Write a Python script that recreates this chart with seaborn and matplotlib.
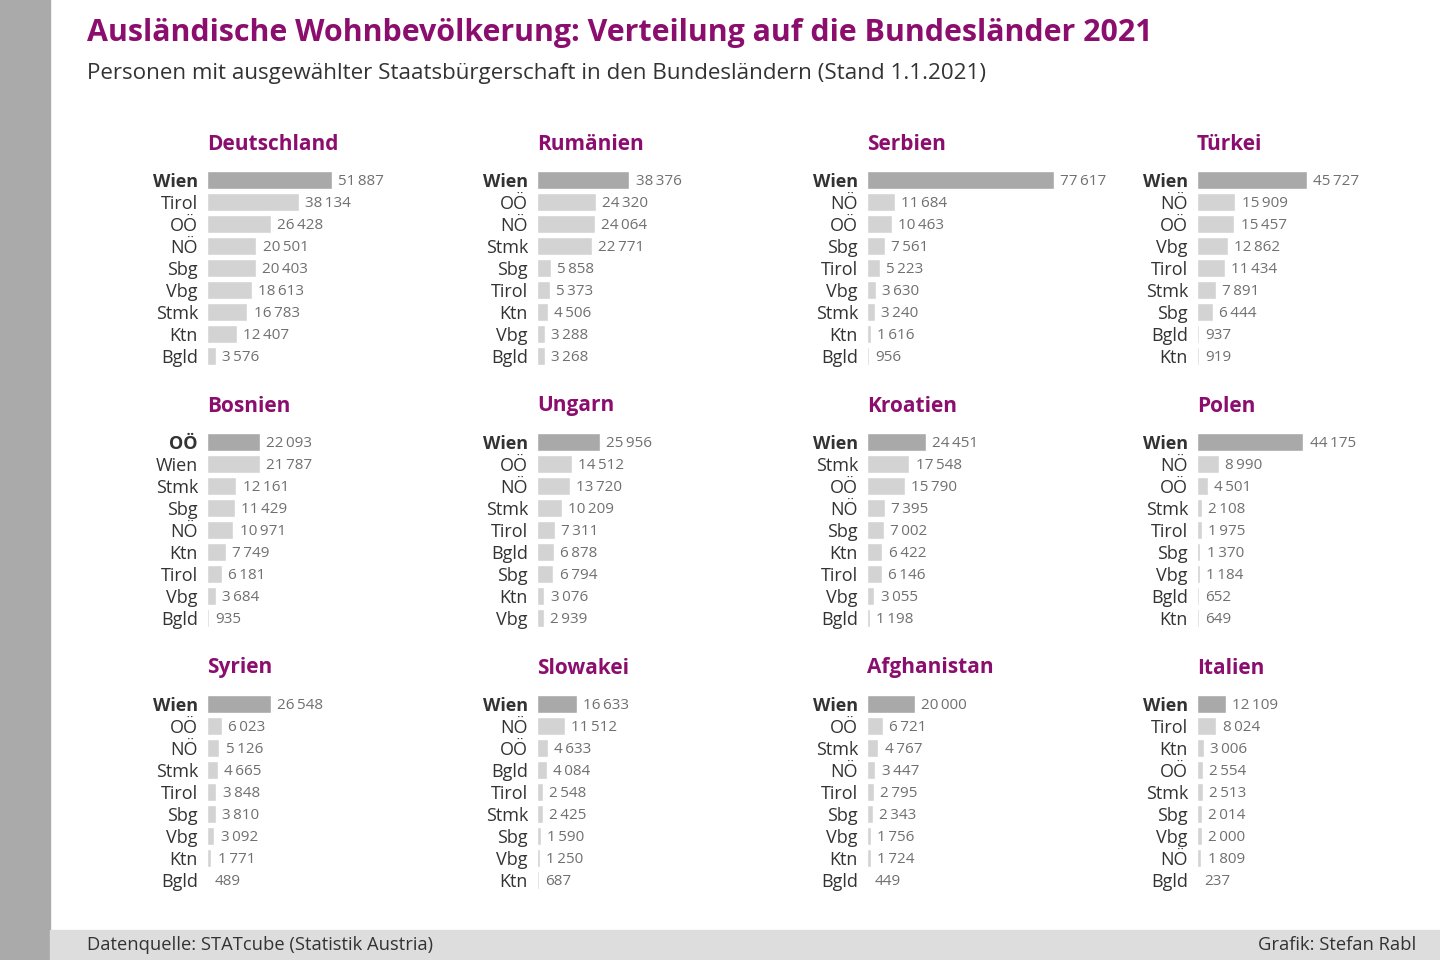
import matplotlib
matplotlib.use("Agg")
import matplotlib.pyplot as plt
import pandas as pd
import seaborn as sns

# %% data
countries = ["Deutschland", "Rumänien", "Serbien", "Türkei",
             "Bosnien", "Ungarn", "Kroatien", "Polen",
             "Syrien", "Slowakei", "Afghanistan", "Italien"]

deutschland_lbl = ["Wien", "Tirol", "OÖ", "NÖ", "Sbg", "Vbg", "Stmk", "Ktn", "Bgld"]
deutschland_val = [51887, 38134, 26428, 20501, 20403, 18613, 16783, 12407, 3576]
rumaenien_lbl = ["Wien", "OÖ", "NÖ", "Stmk", "Sbg", "Tirol", "Ktn", "Vbg", "Bgld"]
rumaenien_val = [38376, 24320, 24064, 22771, 5858, 5373, 4506, 3288, 3268]
serbien_lbl = ["Wien", "NÖ", "OÖ", "Sbg", "Tirol", "Vbg", "Stmk", "Ktn", "Bgld"]
serbien_val = [77617, 11684, 10463, 7561, 5223, 3630, 3240, 1616, 956]
tuerkei_lbl = ["Wien", "NÖ", "OÖ", "Vbg", "Tirol", "Stmk", "Sbg", "Bgld", "Ktn"]
tuerkei_val = [45727, 15909, 15457, 12862, 11434, 7891, 6444, 937, 919]
bosnien_lbl = ["OÖ", "Wien", "Stmk", "Sbg", "NÖ", "Ktn", "Tirol", "Vbg", "Bgld"]
bosnien_val = [22093, 21787, 12161, 11429, 10971, 7749, 6181, 3684, 935]
ungarn_lbl = ["Wien", "OÖ", "NÖ", "Stmk", "Tirol", "Bgld", "Sbg", "Ktn", "Vbg"]
ungarn_val = [25956, 14512, 13720, 10209, 7311, 6878, 6794, 3076, 2939]
kroatien_lbl = ["Wien", "Stmk", "OÖ", "NÖ", "Sbg", "Ktn", "Tirol", "Vbg", "Bgld"]
kroatien_val = [24451, 17548, 15790, 7395, 7002, 6422, 6146, 3055, 1198]
polen_lbl = ["Wien", "NÖ", "OÖ", "Stmk", "Tirol", "Sbg", "Vbg", "Bgld", "Ktn"]
polen_val = [44175, 8990, 4501, 2108, 1975, 1370, 1184, 652, 649]
syrien_lbl = ["Wien", "OÖ", "NÖ", "Stmk", "Tirol", "Sbg", "Vbg", "Ktn", "Bgld"]
syrien_val = [26548, 6023, 5126, 4665, 3848, 3810, 3092, 1771, 489]
slowakei_lbl = ["Wien", "NÖ", "OÖ", "Bgld", "Tirol", "Stmk", "Sbg", "Vbg", "Ktn"]
slowakei_val = [16633, 11512, 4633, 4084, 2548, 2425, 1590, 1250, 687]
afghanistan_lbl = ["Wien", "OÖ", "Stmk", "NÖ", "Tirol", "Sbg", "Vbg", "Ktn", "Bgld"]
afghanistan_val = [20000, 6721, 4767, 3447, 2795, 2343, 1756, 1724, 449]
italien_lbl = ["Wien", "Tirol", "Ktn", "OÖ", "Stmk", "Sbg", "Vbg", "NÖ", "Bgld"]
italien_val = [12109, 8024, 3006, 2554, 2513, 2014, 2000, 1809, 237]

panels = [
    (deutschland_lbl, deutschland_val), (rumaenien_lbl, rumaenien_val),
    (serbien_lbl, serbien_val), (tuerkei_lbl, tuerkei_val),
    (bosnien_lbl, bosnien_val), (ungarn_lbl, ungarn_val),
    (kroatien_lbl, kroatien_val), (polen_lbl, polen_val),
    (syrien_lbl, syrien_val), (slowakei_lbl, slowakei_val),
    (afghanistan_lbl, afghanistan_val), (italien_lbl, italien_val),
]

# %% style
sns.set_style("white")
plt.rcParams["font.family"] = ["Open Sans", "DejaVu Sans"]

PURPLE = "#8b0d6d"
DARK_BAR = "#a9a9a9"
LIGHT_BAR = "#d3d3d3"
TEXT = "#333333"
VALUE = "#707070"

W, H = 1440, 960
fig = plt.figure(figsize=(W / 100, H / 100), dpi=100)
fig.patch.set_facecolor("white")

# decoration: grey side strip and footer band
fig.add_artist(plt.Rectangle((0, 0), 50 / W, 1, transform=fig.transFigure,
                             color="#aaaaaa", zorder=0))
fig.add_artist(plt.Rectangle((50 / W, 0), 1, 30 / H, transform=fig.transFigure,
                             color="#dddddd", zorder=0))

fig.text(87 / W, 1 - 33 / H,
         "Ausländische Wohnbevölkerung: Verteilung auf die Bundesländer 2021",
         fontsize=21.9, fontweight="bold", color=PURPLE, va="center")
fig.text(87 / W, 1 - 73 / H,
         "Personen mit ausgewählter Staatsbürgerschaft in den Bundesländern (Stand 1.1.2021)",
         fontsize=16.1, color=TEXT, va="center")
fig.text(87 / W, 15 / H, "Datenquelle: STATcube (Statistik Austria)",
         fontsize=13.2, color=TEXT, va="center")
fig.text(1416 / W, 15 / H, "Grafik: Stefan Rabl",
         fontsize=13.2, color=TEXT, va="center", ha="right")

# %% small multiples, shared scale (px per person)
px_per_person = 0.00241
ax_w = 230
row_h = 22

for i, (name, (labels, values)) in enumerate(zip(countries, panels)):
    r, c = divmod(i, 4)
    x0 = 207 + 330 * c
    yc = 180 + 262 * r
    top = yc - row_h / 2
    ax = fig.add_axes([x0 / W, 1 - (top + 9 * row_h) / H, ax_w / W, 9 * row_h / H])

    df = pd.DataFrame({"land": labels, "wert": values,
                       "grp": ["top"] + ["rest"] * (len(labels) - 1)})
    sns.barplot(data=df, x="wert", y="land", hue="grp",
                palette={"top": DARK_BAR, "rest": LIGHT_BAR},
                width=0.85, legend=False, ax=ax, saturation=1)

    ax.set_xlim(0, ax_w / px_per_person)
    ax.set_ylim(len(labels) - 0.5, -0.5)
    ax.set_xlabel("")
    ax.set_ylabel("")
    ax.set_xticks([])
    sns.despine(ax=ax, left=True, bottom=True)
    ax.tick_params(axis="y", length=0, pad=6.5, labelsize=13, colors=TEXT)
    for j, t in enumerate(ax.get_yticklabels()):
        if j == 0:
            t.set_fontweight("bold")

    for j, v in enumerate(values):
        ax.annotate(f"{v:,}".replace(",", "\u2009"), xy=(v, j),
                    xytext=(4.5, -0.8), textcoords="offset points",
                    va="center", ha="left", fontsize=11, color=VALUE)

    fig.text(x0 / W, 1 - (144 + 262 * r) / H, name, fontsize=15,
             fontweight="bold", color=PURPLE, va="center")

fig.savefig("out.png", dpi=100)
